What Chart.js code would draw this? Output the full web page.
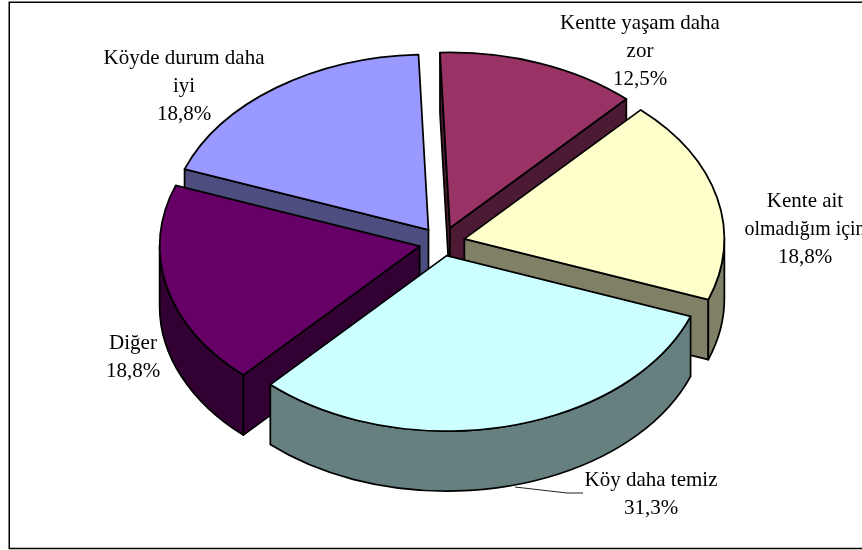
<!DOCTYPE html>
<html><head><meta charset="utf-8">
<style>html,body{margin:0;padding:0;background:#fff;overflow:hidden}canvas{display:block}</style>
<script src="https://cdn.jsdelivr.net/npm/chart.js@4"></script>
</head><body><canvas id="c" width="862" height="550"></canvas>
<script>
const categories = [
  ["Kentte yaşam daha","zor"],
  ["Kente ait","olmadığım için"],
  ["Köy daha temiz"],
  ["Diğer"],
  ["Köyde durum daha","iyi"]
];
const values = [12.5, 18.8, 31.3, 18.8, 18.8];
const topColors = ["#993366","#FFFFCC","#CCFFFF","#660066","#9999FF"];
const sideColors = ["#4D1A33","#808066","#668080","#330033","#4D4D80"];
const labelCenters = [[640,23],[805,201],[651,480],[133,343],[184,58]];
const explodeBy = [23,23,20,23,23];

const CX=442, CY=242.5, SQUASH=0.675, DEPTH=60, RADIUS=260, ROT=-2.2, LINE=28, LABEL_MAX=162;
const drawOrder=[0,4,1,3,2];
const TAU=Math.PI*2;

const pie3d={
  id:'pie3d',
  beforeDraw(chart){
    const c=chart.ctx;
    c.save();c.strokeStyle='#000';c.lineWidth=1.5;
    c.strokeRect(9.25,2.25,870,546.25);
    c.restore();
  },
  beforeDatasetsDraw(chart){
    const c=chart.ctx, meta=chart.getDatasetMeta(0);
    drawOrder.forEach(i=>{
      const arc=meta.data[i];
      const {x,y,startAngle:a,endAngle:b,outerRadius:r}=arc.getProps(['x','y','startAngle','endAngle','outerRadius'],true);
      const m=(a+b)/2, ox=explodeBy[i]*Math.cos(m), oy=explodeBy[i]*Math.sin(m);
      const sx=CX+ox, sy=CY+SQUASH*oy;
      const pt=(t,d)=>[sx+r*Math.cos(t), sy+SQUASH*r*Math.sin(t)+d];
      c.save();
      c.lineWidth=1.75;c.lineJoin='round';c.strokeStyle='#000';c.fillStyle=sideColors[i];
      const radial=t=>{
        c.beginPath();
        c.moveTo(sx,sy);c.lineTo(...pt(t,0));c.lineTo(...pt(t,DEPTH));c.lineTo(sx,sy+DEPTH);c.closePath();
        c.fill();c.stroke();
      };
      if(Math.sin(a-Math.PI/2)>0) radial(a);
      if(Math.sin(b+Math.PI/2)>0) radial(b);
      for(const k of [-TAU,0,TAU]){
        const lo=Math.max(a,k), hi=Math.min(b,k+Math.PI);
        if(lo<hi){
          c.beginPath();
          c.ellipse(sx,sy,r,r*SQUASH,0,lo,hi);
          c.ellipse(sx,sy+DEPTH,r,r*SQUASH,0,hi,lo,true);
          c.closePath();c.fill();c.stroke();
        }
      }
      // top face: drawn by the library's arc element
      c.save();
      c.translate(sx,sy);c.scale(1,SQUASH);c.translate(-x,-y);
      arc.draw(c);
      c.restore();
      c.beginPath();
      c.moveTo(sx,sy);
      c.ellipse(sx,sy,r,r*SQUASH,0,a,b);
      c.closePath();c.stroke();
      c.restore();
    });
    // leader line
    c.save();c.strokeStyle='#222';c.lineWidth=1;
    c.beginPath();c.moveTo(515,487);c.lineTo(567,493);c.lineTo(583,493);c.stroke();c.restore();
    // labels
    c.save();
    c.fillStyle='#000';c.font='21px "Liberation Serif"';c.textAlign='center';c.textBaseline='middle';
    categories.forEach((lines,i)=>{
      const [lx,ly]=labelCenters[i];
      const all=[...lines, values[i].toFixed(1).replace('.',',')+'%'];
      all.forEach((t,j)=>{
        if(t==='olmadığım için') c.fillText(t,lx,ly+j*LINE,121);
        else c.fillText(t,lx,ly+j*LINE,LABEL_MAX);
      });
    });
    c.restore();
    return false;
  }
};

new Chart(document.getElementById('c'),{
  type:'pie',
  data:{labels:categories.map(l=>l.join(' ')),
    datasets:[{data:values,backgroundColor:topColors,borderWidth:0,radius:RADIUS,rotation:ROT}]},
  options:{responsive:false,animation:false,layout:{padding:0},
    plugins:{legend:{display:false},tooltip:{enabled:false},title:{display:false}}},
  plugins:[pie3d]
});
</script></body></html>
